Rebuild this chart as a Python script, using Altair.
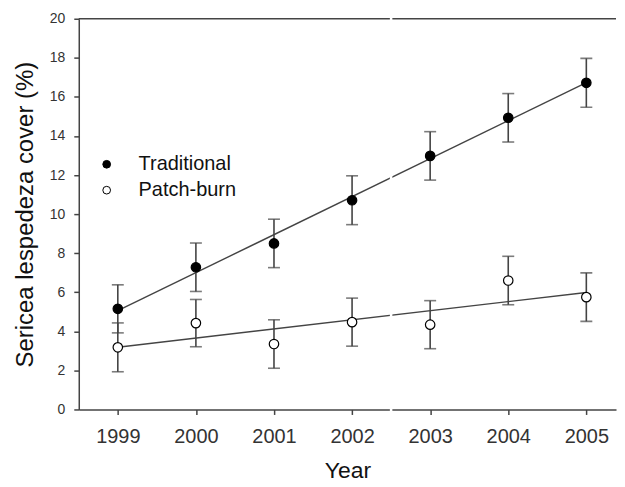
import altair as alt
import pandas as pd

years = [1999, 2000, 2001, 2002, 2003, 2004, 2005]
traditional = [5.15, 7.28, 8.50, 10.71, 12.98, 14.93, 16.72]
traditional_se = [1.23, 1.24, 1.24, 1.25, 1.24, 1.24, 1.25]
patchburn = [3.18, 4.42, 3.35, 4.47, 4.34, 6.60, 5.75]
patchburn_se = [1.25, 1.21, 1.24, 1.23, 1.23, 1.24, 1.24]
groups = ["Traditional", "Patch-burn"]
y_ticks = [0, 2, 4, 6, 8, 10, 12, 14, 16, 18, 20]

W, H = 539, 392
AX = "#444444"

rows = []
for g, vals, ses in [(groups[0], traditional, traditional_se), (groups[1], patchburn, patchburn_se)]:
    for yr, v, s in zip(years, vals, ses):
        rows.append({"year": yr, "value": v, "lo": v - s, "hi": v + s, "group": g})
df = pd.DataFrame(rows)

xs = alt.Scale(domain=[1998.5, 2005.38], nice=False, zero=False)
ys = alt.Scale(domain=[0, 20], nice=False)

x_axis = alt.Axis(values=years, format="d", labelFontSize=20, titleFontSize=23,
                  labelPadding=12, titlePadding=13, labelFlush=False)
y_axis = alt.Axis(values=y_ticks, labelFontSize=14, titleFontSize=24,
                  labelPadding=9, titlePadding=12, labelOverlap=False)


def xn(f):
    return alt.X(f, scale=xs, axis=x_axis, title="Year")


def yn(f):
    return alt.Y(f, scale=ys, axis=y_axis, title="Sericea lespedeza cover (%)")


base = alt.Chart(df)

pts = base.mark_circle(stroke="black", strokeWidth=1.2, size=90, opacity=1).encode(
    x=xn("year:Q"), y=yn("value:Q"),
    fill=alt.Fill("group:N", scale=alt.Scale(domain=groups, range=["black", "white"]),
                  legend=alt.Legend(title=None, orient="none", legendX=18, legendY=136,
                                    symbolType="circle", symbolSize=60,
                                    symbolStrokeColor="black", symbolStrokeWidth=1,
                                    labelFontSize=20, labelColor="#111111",
                                    labelOffset=22, rowPadding=6, padding=0)),
)

reg = base.transform_regression("year", "value", groupby=["group"]).mark_line(
    color=AX, strokeWidth=1.4
).encode(x=xn("year:Q"), y=yn("value:Q"), detail="group:N")

bars = base.mark_rule(color=AX, strokeWidth=1.6).encode(
    x=xn("year:Q"), y=yn("lo:Q"), y2="hi:Q")
cap_lo = base.mark_tick(color=AX, orient="horizontal", size=12, thickness=1.6).encode(
    x=xn("year:Q"), y=yn("lo:Q"))
cap_hi = base.mark_tick(color=AX, orient="horizontal", size=12, thickness=1.6).encode(
    x=xn("year:Q"), y=yn("hi:Q"))

top = alt.Chart(pd.DataFrame({"y": [20]})).mark_rule(color=AX, strokeWidth=1.5).encode(
    y=yn("y:Q"), x=alt.value(0), x2=alt.value(W))

gap = alt.Chart(pd.DataFrame({"x": [2002.5]})).mark_rule(color="white", strokeWidth=2.5).encode(
    x=xn("x:Q"), y=alt.value(-1), y2=alt.value(H + 2))

chart = alt.layer(top, reg, bars, cap_lo, cap_hi, pts, gap).properties(
    width=W, height=H, padding={"left": 5, "top": 3, "right": 0, "bottom": 0}
).configure_view(stroke=None).configure_axis(
    grid=False, domainColor=AX, domainWidth=1.5, tickColor=AX, tickWidth=1.5, tickSize=5,
    labelColor="#333333", titleColor="#111111", labelFont="Liberation Sans",
    titleFont="Liberation Sans", titleFontWeight="normal"
).configure_legend(labelFont="Liberation Sans")

chart.save("out.html", embed_options={"renderer": "svg", "actions": False})
